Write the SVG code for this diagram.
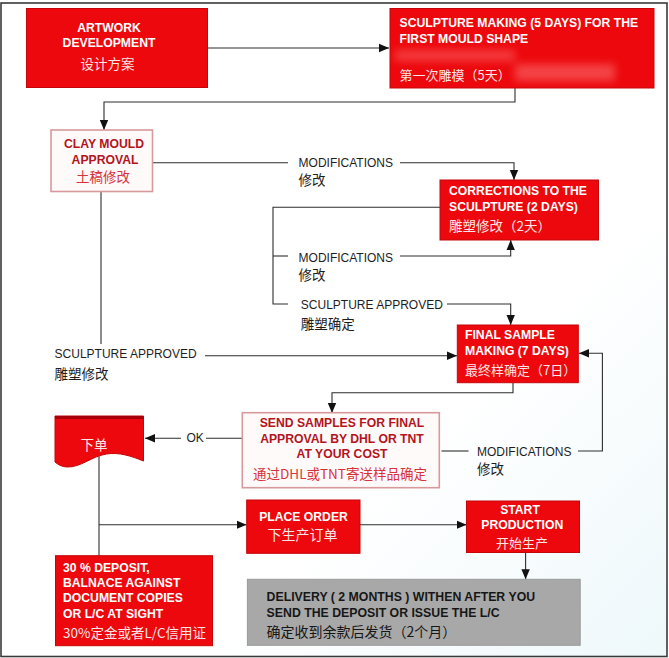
<svg xmlns="http://www.w3.org/2000/svg" width="669" height="658" viewBox="0 0 669 658">
<defs>
  <style>
    .frame { fill: url(#bg); stroke: #3a3a3a; stroke-width: 1.6; }
    .red { fill: #ec080c; stroke: #c4060a; stroke-width: 1; }
    .pale { fill: #fffafa; stroke: #d7999b; stroke-width: 1.6; }
    .gray { fill: #a8a8a8; stroke: #9a9a9a; stroke-width: 1; }
    .en { font-family: "Liberation Sans", Arial, sans-serif; font-weight: bold; font-size: 12.2px; }
    .cn { font-family: "Noto Sans CJK SC", "Liberation Sans", sans-serif; font-size: 13.5px; }
    .lbl { font-family: "Liberation Sans", Arial, sans-serif; font-size: 12px; fill: #1e1e1e; }
    .lblcn { font-family: "Noto Sans CJK SC", sans-serif; font-size: 13.5px; fill: #1e1e1e; }
    .w { fill: #ffffff; }
    .wc { fill: #ffe6e6; }
    .dr { fill: #b3141d; }
    .rc { fill: #d9323a; }
    .k { fill: #161616; }
    .mid { text-anchor: middle; }
    .conn path { fill: none; stroke: #2e2e2e; stroke-width: 1.1; }
  </style>
  <linearGradient id="bg" x1="0" y1="0" x2="1" y2="1">
    <stop offset="0" stop-color="#ffffff"/>
    <stop offset="0.65" stop-color="#ffffff"/>
    <stop offset="1" stop-color="#eef8fb"/>
  </linearGradient>
  <filter id="blur" x="-30%" y="-60%" width="160%" height="220%">
    <feGaussianBlur stdDeviation="4"/>
  </filter>
  <marker id="ah" markerUnits="userSpaceOnUse" markerWidth="10" markerHeight="10" viewBox="0 0 10 10" refX="10" refY="5" orient="auto">
    <path d="M0,0.8 L10,5 L0,9.2 Z" fill="#111"/>
  </marker>
</defs>

<rect class="frame" x="1" y="3" width="666" height="653.5"/>

<g id="connectors" class="conn">
  <path d="M208,48 H389" marker-end="url(#ah)"/>
  <path d="M515,88 V102 H104 V130" marker-end="url(#ah)"/>
  <path d="M153,162.7 H288"/>
  <path d="M400,162.7 H514 V180" marker-end="url(#ah)"/>
  <path d="M440,207.3 H273 V304 H288"/>
  <path d="M273,256 H288"/>
  <path d="M400,256 H510.7 V240" marker-end="url(#ah)"/>
  <path d="M447,304 H510.7 V325" marker-end="url(#ah)"/>
  <path d="M101,192 V344"/>
  <path d="M205,355.7 H457" marker-end="url(#ah)"/>
  <path d="M513,383 V392.7 H332 V413" marker-end="url(#ah)"/>
  <path d="M242,438.3 H206"/>
  <path d="M181,438.3 H145" marker-end="url(#ah)"/>
  <path d="M441.5,451 H468.5"/>
  <path d="M578,451 H602.4 V353.3 H579" marker-end="url(#ah)"/>
  <path d="M99,456 V556"/>
  <path d="M99,524.7 H246.5" marker-end="url(#ah)"/>
  <path d="M360,524.7 H466.5" marker-end="url(#ah)"/>
  <path d="M525.6,553 V579.3" marker-end="url(#ah)"/>
</g>

<g id="labels">
  <text class="lbl" x="298.6" y="166.7">MODIFICATIONS</text>
  <text class="lblcn" x="298.6" y="184.5">修改</text>
  <text class="lbl" x="298.6" y="261.5">MODIFICATIONS</text>
  <text class="lblcn" x="298.6" y="280">修改</text>
  <text class="lbl" x="300.8" y="309">SCULPTURE APPROVED</text>
  <text class="lblcn" x="300.8" y="329">雕塑确定</text>
  <text class="lbl" x="54.6" y="358.3">SCULPTURE APPROVED</text>
  <text class="lblcn" x="54.6" y="378.5">雕塑修改</text>
  <text class="lbl" x="186.4" y="442.3">OK</text>
  <text class="lbl" x="477" y="456">MODIFICATIONS</text>
  <text class="lblcn" x="477" y="474">修改</text>
</g>

<g id="artwork">
  <rect class="red" x="26.5" y="8.5" width="181" height="79"/>
  <text class="en w mid" x="109" y="31.7">ARTWORK</text>
  <text class="en w mid" x="109" y="47.3">DEVELOPMENT</text>
  <text class="cn wc mid" x="107.5" y="68.5">设计方案</text>
</g>

<g id="sculpture">
  <rect class="red" x="390" y="8.5" width="264" height="79.5"/>
  <g filter="url(#blur)" opacity="0.4">
    <rect x="395" y="50" width="120" height="11" fill="#ff8a8a"/>
    <rect x="515" y="64" width="100" height="17" fill="#ff9c9c"/>
  </g>
  <text class="en w" x="399.5" y="27.3">SCULPTURE MAKING (5 DAYS) FOR THE</text>
  <text class="en w" x="399.5" y="43.3">FIRST MOULD SHAPE</text>
  <text class="cn wc" x="399.5" y="80" style="font-size:13px">第一次雕模（5天）</text>
</g>

<g id="clay">
  <rect class="pale" x="51" y="130" width="101.5" height="61.5"/>
  <text class="en dr mid" x="104" y="148.3">CLAY MOULD</text>
  <text class="en dr mid" x="105" y="164.3">APPROVAL</text>
  <text class="cn rc mid" x="103" y="181.7">土稿修改</text>
</g>

<g id="corrections">
  <rect class="red" x="440" y="180" width="158.5" height="60"/>
  <text class="en w" x="449" y="195">CORRECTIONS TO THE</text>
  <text class="en w" x="449" y="210.7">SCULPTURE (2 DAYS)</text>
  <text class="cn wc" x="449" y="230.7">雕塑修改（2天）</text>
</g>

<g id="final">
  <rect class="red" x="457.3" y="325" width="121" height="57.7"/>
  <text class="en w" x="465" y="339">FINAL SAMPLE</text>
  <text class="en w" x="465" y="355">MAKING (7 DAYS)</text>
  <text class="cn wc" x="465" y="374.5" style="font-size:13px">最终样确定（7日）</text>
</g>

<g id="send">
  <rect class="pale" x="242.3" y="412.7" width="197" height="75"/>
  <text class="en dr mid" x="342" y="426.7">SEND SAMPLES FOR FINAL</text>
  <text class="en dr mid" x="342" y="442.7">APPROVAL BY DHL OR TNT</text>
  <text class="en dr mid" x="342" y="458.3">AT YOUR COST</text>
  <text class="cn rc mid" x="340" y="479.3">通过DHL或TNT寄送样品确定</text>
</g>

<g id="order-doc">
  <path d="M55,416 H143.5 V461 C131,456 119,452 106.5,454 C91,456.5 81,467.5 67,467 C61.5,466.8 58,464.5 55,462 Z" fill="#ec080c" stroke="#c4060a" stroke-width="1"/>
  <rect x="55" y="416" width="88.5" height="3" fill="#a80008"/>
  <text class="cn wc mid" x="94" y="450">下单</text>
</g>

<g id="place-order">
  <rect class="red" x="246.7" y="500" width="113.3" height="53.3"/>
  <text class="en w mid" x="303.5" y="521">PLACE ORDER</text>
  <text class="cn wc mid" x="302.5" y="540" style="font-size:14px">下生产订单</text>
</g>

<g id="start-production">
  <rect class="red" x="466.5" y="501" width="113" height="51.5"/>
  <text class="en w mid" x="520" y="513.5">START</text>
  <text class="en w mid" x="522.3" y="529">PRODUCTION</text>
  <text class="cn wc mid" x="522" y="547.5" style="font-size:13px">开始生产</text>
</g>

<g id="deposit">
  <rect class="red" x="55.5" y="555.7" width="157" height="90"/>
  <text class="en w" x="63" y="571.7">30 % DEPOSIT,</text>
  <text class="en w" x="63" y="586.7">BALNACE AGAINST</text>
  <text class="en w" x="63" y="602.3">DOCUMENT COPIES</text>
  <text class="en w" x="63" y="618.3">OR L/C AT SIGHT</text>
  <text class="cn wc" x="63" y="638.3">30%定金或者L/C信用证</text>
</g>

<g id="delivery">
  <rect class="gray" x="247.4" y="579.3" width="332.8" height="66"/>
  <text class="en k" x="266.6" y="601" style="font-size:12.3px">DELIVERY ( 2 MONTHS ) WITHEN AFTER YOU</text>
  <text class="en k" x="266.6" y="616.7" style="font-size:12.3px">SEND THE DEPOSIT OR ISSUE THE L/C</text>
  <text class="cn k" x="266.6" y="636.7" style="font-size:14px">确定收到余款后发货（2个月）</text>
</g>
</svg>
